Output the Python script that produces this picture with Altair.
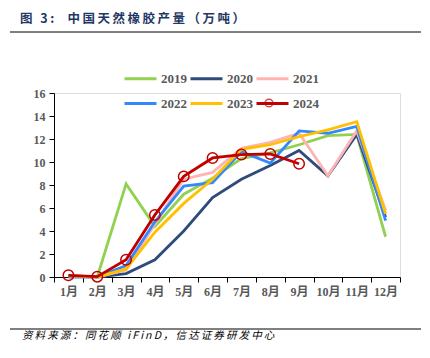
import altair as alt
import pandas as pd

months = ["1月", "2月", "3月", "4月", "5月", "6月", "7月", "8月", "9月", "10月", "11月", "12月"]
years = ["2019", "2020", "2021", "2022", "2023", "2024"]
colors = ["#92D050", "#2F4B7C", "#FFB3B3", "#3388FF", "#FFC000", "#C00000"]

v2019 = [None, 0.0, 8.1, 4.4, 7.2, 8.6, 10.3, 10.8, 11.5, 12.3, 12.4, 3.5]
v2020 = [0.1, 0.0, 0.3, 1.5, 4.0, 6.9, 8.5, 9.7, 11.0, 8.8, 12.4, 5.2]
v2021 = [0.1, 0.0, 0.6, 4.6, 8.5, 9.1, 11.2, 11.7, 12.5, 8.8, 12.7, 5.8]
v2022 = [0.0, 0.0, 1.0, 4.8, 7.9, 8.2, 10.9, 9.9, 12.7, 12.5, 13.1, 4.9]
v2023 = [0.1, 0.0, 0.7, 3.9, 6.4, 8.5, 11.1, 11.5, 12.2, 12.8, 13.5, 5.5]
v2024 = [0.15, 0.03, 1.5, 5.4, 8.75, 10.35, 10.65, 10.7, 9.85, None, None, None]

title_text = "图 3:  中国天然橡胶产量（万吨）"
source_text = "资料来源：同花顺 iFinD，信达证券研发中心"

def spaced(s):
    return "\u2009".join(list(s))

series = dict(zip(years, [v2019, v2020, v2021, v2022, v2023, v2024]))
rows = []
for y, vals in series.items():
    for m, v in zip(months, vals):
        if v is not None:
            rows.append({"month": m, "year": y, "value": v})
df = pd.DataFrame(rows)
df24 = df[df["year"] == "2024"]

W, H = 346, 184
serif = "Liberation Serif, Noto Sans CJK SC"

def xenc():
    return alt.X("month:N", sort=months, bandPosition=0.5,
                 scale=alt.Scale(type="band", paddingInner=0, paddingOuter=0),
                 axis=alt.Axis(title=None, tickBand="extent", labelAngle=0,
                               labelFont=serif, labelFontWeight="bold",
                               labelColor="#595959", labelFontSize=12,
                               domainColor="#000000", tickColor="#000000",
                               tickSize=5, labelPadding=4, grid=False))

def yenc():
    return alt.Y("value:Q", scale=alt.Scale(domain=[0, 16], nice=False),
                 axis=alt.Axis(title=None, values=list(range(0, 17, 2)), labelOverlap=False,
                               labelFont=serif, labelFontWeight="bold",
                               labelColor="#595959", labelFontSize=12,
                               domainColor="#000000", tickColor="#000000",
                               tickSize=5, labelPadding=4, grid=False))

lines = alt.Chart(df).mark_line(strokeWidth=2.8).encode(
    x=xenc(), y=yenc(),
    color=alt.Color("year:N", scale=alt.Scale(domain=years, range=colors),
                    legend=alt.Legend(title=None, orient="none", legendX=69, legendY=-32,
                                      columns=3, direction="horizontal",
                                      symbolType="stroke", symbolSize=1024,
                                      symbolStrokeWidth=3, labelFont=serif,
                                      labelFontWeight="bold", labelFontSize=13,
                                      labelColor="#595959", labelOffset=3,
                                      columnPadding=-3, rowPadding=-1)),
    order=alt.Order("year:N"),
    detail="year:N",
)

pts = alt.Chart(df24).mark_point(filled=False, size=110, strokeWidth=1.5, color="#C00000", opacity=1).encode(
    x=xenc(), y=yenc()
)

tdf = pd.DataFrame({"t": [spaced(title_text)]})
title = alt.Chart(tdf).mark_text(align="left", baseline="middle", font="Noto Sans CJK SC",
                                 fontWeight="bold", fontSize=12.5, color="#1F3763").encode(
    text="t:N", x=alt.value(-34), y=alt.value(-74))
sdf = pd.DataFrame({"t": [spaced(source_text)]})
source = alt.Chart(sdf).mark_text(align="left", baseline="middle", font="Noto Sans CJK SC",
                                  fontStyle="italic", fontSize=10.5, color="#000000").encode(
    text="t:N", x=alt.value(-32), y=alt.value(243))
rule_top = alt.Chart(tdf).mark_rule(color="#000000", strokeWidth=1).encode(
    x=alt.value(-44), x2=alt.value(367), y=alt.value(-61))
rule_bot = alt.Chart(tdf).mark_rule(color="#000000", strokeWidth=1).encode(
    x=alt.value(-44), x2=alt.value(367), y=alt.value(236))
leg_pt = alt.Chart(tdf).mark_point(filled=False, size=60, strokeWidth=1.5, color="#C00000").encode(
    x=alt.value(269 - 54), y=alt.value(103 - 93))

chart = alt.layer(lines, pts, title, source, rule_top, rule_bot, leg_pt).properties(
    width=W, height=H,
    autosize=alt.AutoSizeParams(type="none"),
    padding={"left": 46, "top": 85, "right": 22, "bottom": 73},
).configure_view(stroke=None).configure(background="#ffffff")

chart.save("out.html", embed_options={"renderer": "svg", "actions": False})
